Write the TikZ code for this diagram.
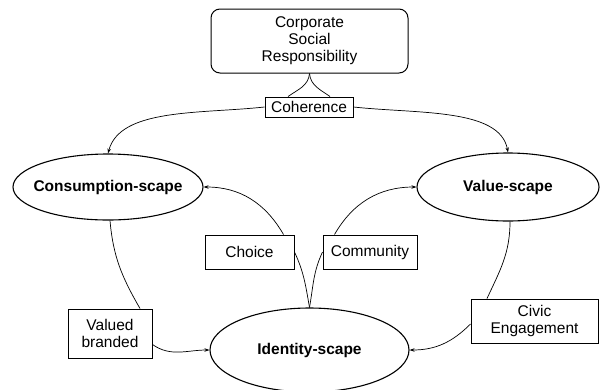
\documentclass[tikz,border=0pt]{standalone}
\usepackage{fontspec}
\setmainfont{Liberation Sans}
\usetikzlibrary{shapes.geometric,arrows.meta}
\begin{document}
\begin{tikzpicture}[x=1pt,y=-1pt,
  every node/.style={font=\fontsize{15.5}{17}\selectfont,inner sep=0pt,align=center},
  tag/.style={draw,line width=1pt},
  scape/.style={draw,ellipse,inner xsep=-20pt,line width=1.1pt,font=\fontsize{15.5}{17}\selectfont\bfseries},
  link/.style={line width=0.7pt},
  arr/.style={link,-{Stealth[length=5pt,width=3.5pt]}}]
\useasboundingbox (0,0) rectangle (601,389);
\node[tag,rounded corners=9pt,minimum width=197pt,minimum height=64pt] (csr) at (309.5,41) {Corporate\\Social\\Responsibility};
\node[tag,minimum width=88pt,minimum height=20pt] (coh) at (309,107) {Coherence};
\node[scape,minimum width=190pt,minimum height=66pt] (cons) at (108,187) {Consumption-scape};
\node[scape,minimum width=182pt,minimum height=68pt] (val) at (508,187) {Value-scape};
\node[scape,minimum width=199pt,minimum height=84pt] (id) at (309.5,350) {Identity-scape};
\node[tag,minimum width=89pt,minimum height=34pt] (choice) at (249.5,252) {Choice};
\node[tag,minimum width=94pt,minimum height=34pt] (comm) at (370,252) {Community};
\node[tag,minimum width=84pt,minimum height=49pt] (valued) at (110,333.5) {Valued\\branded};
\node[tag,minimum width=127pt,minimum height=44pt] (civic) at (534.5,321) {Civic\\Engagement};
\draw[link] (csr.south) to[out=-95,in=35] ([xshift=-21pt]coh.north);
\draw[link] (csr.south) to[out=-85,in=145] ([xshift=21pt]coh.north);
\draw[arr] (coh.west) .. controls (200,114) and (120,108) .. (cons.north);
\draw[arr] (coh.east) .. controls (418,114) and (500,108) .. (val.north);
\draw[link] ([xshift=2pt]cons.south) to[out=-85,in=120] ([xshift=30pt]valued.north);
\draw[arr] ([yshift=-11pt]valued.east) to[out=-35,in=180] (id.west);
\draw[link] ([xshift=2pt]val.south) to[out=-90,in=65] ([xshift=-47.5pt]civic.north);
\draw[arr] ([yshift=-3pt]civic.west) to[out=-135,in=0] (id.east);
\draw[link] (id.north) to[out=100,in=-65] (choice.east);
\draw[arr] ([xshift=-11pt]choice.north east) to[out=120,in=0] (cons.east);
\draw[link] (id.north) to[out=80,in=-115] (comm.west);
\draw[arr] ([xshift=12pt]comm.north west) to[out=60,in=180] (val.west);
\end{tikzpicture}
\end{document}
